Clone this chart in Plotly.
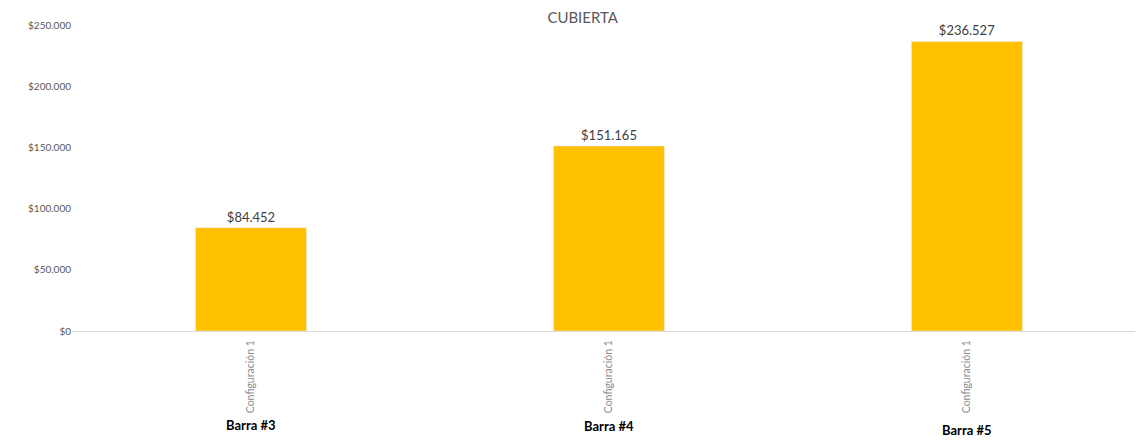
import plotly.graph_objs as go

barras = ['Barra #3', 'Barra #4', 'Barra #5']
configuracion = ['Configuración 1', 'Configuración 1', 'Configuración 1']
costos = [84452, 151165, 236527]
ticks_y = [0, 50000, 100000, 150000, 200000, 250000]
ticks_y_texto = ['$0', '$50.000', '$100.000', '$150.000', '$200.000', '$250.000']

fuente = 'Lato'
x_cat = [b + '|' + c for b, c in zip(barras, configuracion)]

fig = go.Figure()
fig.add_trace(go.Bar(
    x=x_cat,
    y=costos,
    width=0.31,
    marker=dict(color='#FFC000'),
    texttemplate='$%{y:,}',
    textposition='outside',
    textfont=dict(size=13, color='#404040', family=fuente),
    cliponaxis=False,
))

# la pagina tiene 8px de margen en el body, se compensa aqui
fig.update_layout(
    width=1138, height=432,
    margin=dict(l=64, r=0, t=17, b=109),
    plot_bgcolor='white', paper_bgcolor='white',
    separators=',.',
    showlegend=False,
    font=dict(family=fuente, color='#595959'),
    title=dict(text='CUBIERTA', x=0.505, xanchor='center', y=0.978, yanchor='middle',
               font=dict(size=15, color='#595959', family=fuente)),
)

fig.update_xaxes(
    tickmode='array', tickvals=x_cat, ticktext=configuracion,
    tickangle=-90, tickfont=dict(size=10.5, color='#8c8c8c', family=fuente),
    showline=True, linecolor='#d9d9d9', linewidth=1, showgrid=False,
    ticks='', ticklabelstandoff=4,
)
fig.update_yaxes(
    range=[0, 250000], tickmode='array', tickvals=ticks_y, ticktext=ticks_y_texto,
    tickfont=dict(size=10, color='#595959', family=fuente),
    showgrid=False, zeroline=False, showline=False, ticks='',
)

for xc, b, yy in zip(x_cat, barras, [-0.307, -0.31, -0.323]):
    fig.add_annotation(x=xc, y=yy, xref='x', yref='paper', text='<b>' + b + '</b>',
                       showarrow=False, yanchor='middle',
                       font=dict(size=13, color='#000000', family=fuente))

fig.write_html('out.html')
